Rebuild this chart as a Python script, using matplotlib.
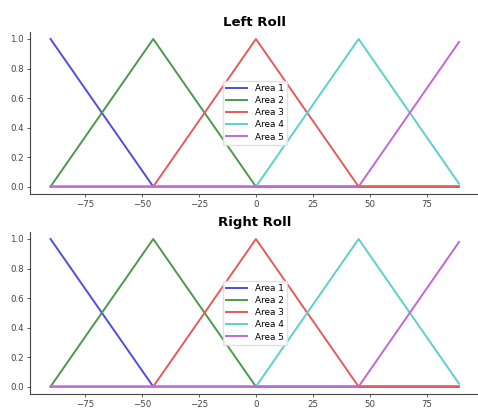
import matplotlib
matplotlib.use("Agg")
import matplotlib.pyplot as plt

# Membership function vertices (x, y) for each area
area1_x = [-90, -45, 89]
area1_y = [1.0, 0.0, 0.0]
area2_x = [-90, -45, 0, 89]
area2_y = [0.0, 1.0, 0.0, 0.0]
area3_x = [-90, -45, 0, 45, 89]
area3_y = [0.0, 0.0, 1.0, 0.0, 0.0]
area4_x = [-90, 0, 45, 89]
area4_y = [0.0, 0.0, 1.0, 0.02]
area5_x = [-90, 45, 89]
area5_y = [0.0, 0.0, 0.98]

labels = ["Area 1", "Area 2", "Area 3", "Area 4", "Area 5"]
titles = ["Left Roll", "Right Roll"]
xticks = [-75, -50, -25, 0, 25, 50, 75]
yticks = [0.0, 0.2, 0.4, 0.6, 0.8, 1.0]

series = [(area1_x, area1_y), (area2_x, area2_y), (area3_x, area3_y),
          (area4_x, area4_y), (area5_x, area5_y)]
colors = ["#4e4ee0", "#4a9a4a", "#e85a5a", "#5cd0cc", "#c466d8"]

fig = plt.figure(figsize=(4.78, 4.09), dpi=100)
positions = [[0.063, 0.5257, 0.94, 0.397], [0.063, 0.0367, 0.94, 0.397]]

for pos, title in zip(positions, titles):
    ax = fig.add_axes(pos)
    for (x, y), c, lab in zip(series, colors, labels):
        ax.plot(x, y, color=c, linewidth=1.4, label=lab)
    ax.set_title(title, fontsize=9.5, fontweight="bold", pad=4)
    ax.set_xticks(xticks)
    ax.set_yticks(yticks)
    ax.tick_params(labelsize=6.2, colors="#444444", length=2.5, width=0.6, pad=2)
    for s in ["top", "right"]:
        ax.spines[s].set_visible(False)
    for s in ["left", "bottom"]:
        ax.spines[s].set_color("#444444")
        ax.spines[s].set_linewidth(0.8)
    ax.legend(loc="center", fontsize=6.4, handlelength=2.4, labelspacing=0.35,
              borderpad=0.4, framealpha=0.9, edgecolor="#dddddd")

fig.savefig("out.png", dpi=100)
